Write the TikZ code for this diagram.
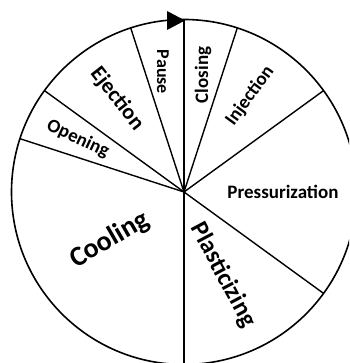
\documentclass[tikz,border=0pt]{standalone}
\usepackage{fontspec}
\setmainfont{Carlito}
\begin{document}
\begin{tikzpicture}[x=1pt,y=1pt,
  lbl/.style={font=\bfseries, inner sep=0pt},
  rim/.style={line width=1.6pt},
  spoke/.style={line width=1.4pt}]
\useasboundingbox (0,0) rectangle (349,363);
\clip (0,0) rectangle (349,363);
\coordinate (c) at (184,171);
\draw[rim] (c) circle[radius=172.5];
\foreach \a in {90,72,36,-36,-90,162,144,108}
  \draw[spoke] (c) -- ++(\a:172.5);
\fill (167,352) -- (167,333) -- (185,342.5) -- cycle;
\node[lbl, font=\bfseries\fontsize{28}{30}\selectfont, rotate=30] (cool) at (110,123) {Cooling};
\node[lbl, font=\bfseries\fontsize{25}{27}\selectfont, rotate=-62] (plast) at (223,88) {Plasticizing};
\node[lbl, font=\bfseries\fontsize{19}{21}\selectfont, rotate=-25] (open) at (78,224) {Opening};
\node[lbl, font=\bfseries\fontsize{22}{24}\selectfont, rotate=-52] (eject) at (117,264) {Ejection};
\node[lbl, font=\bfseries\fontsize{18}{20}\selectfont, rotate=-90] (pause) at (163,291) {Pause};
\node[lbl, font=\bfseries\fontsize{19}{21}\selectfont, rotate=90] (close) at (203,288) {Closing};
\node[lbl, font=\bfseries\fontsize{19}{21}\selectfont, rotate=54] (inj) at (250,267) {Injection};
\node[lbl, font=\bfseries\fontsize{19}{21}\selectfont] (press) at (283,171) {Pressurization};
\end{tikzpicture}
\end{document}
